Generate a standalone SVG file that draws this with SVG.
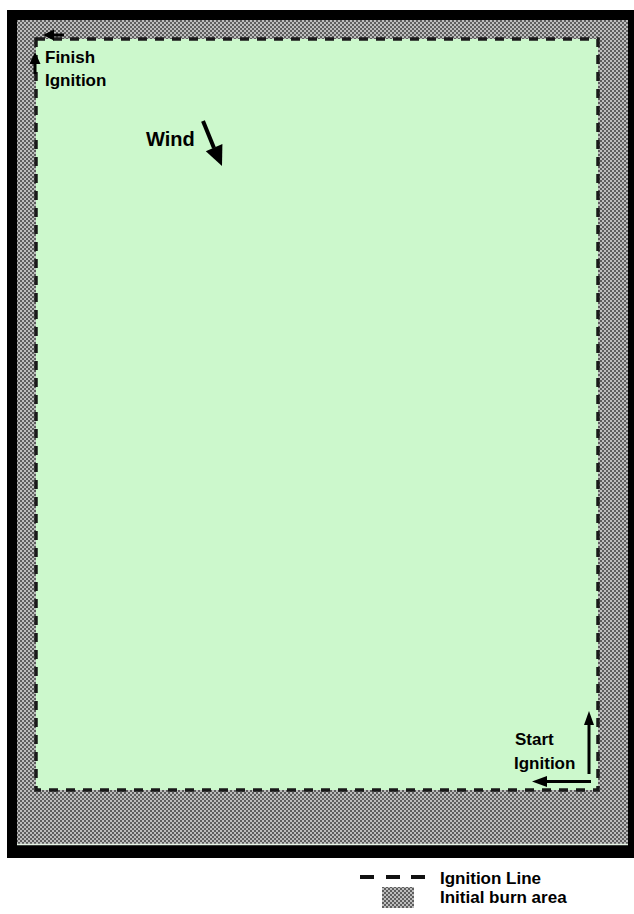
<svg xmlns="http://www.w3.org/2000/svg" width="634" height="914" viewBox="0 0 634 914">
  <defs>
    <pattern id="hatch" patternUnits="userSpaceOnUse" width="4" height="4">
      <rect width="4" height="4" fill="#5e5e5e"/>
      <rect x="2" y="0" width="2" height="2" fill="#bdbdbd"/>
      <rect x="0" y="2" width="2" height="2" fill="#bdbdbd"/>
    </pattern>
  </defs>
  <style>
    .lbl { font-family: "Liberation Sans", Arial, sans-serif; font-weight: bold; font-size: 17px; fill: #000; }
    .ign { fill: none; stroke: #1a1a1a; stroke-width: 3.5; stroke-dasharray: 9 8; }
    .arr { stroke: #000; stroke-width: 3; fill: none; }
    .head { fill: #000; }
  </style>
  <rect width="634" height="914" fill="#ffffff"/>

  <g id="frame">
    <rect x="7" y="10" width="627" height="848" fill="#000"/>
  </g>
  <g id="burn-area">
    <rect x="17" y="20" width="611" height="825" fill="url(#hatch)"/>
    <line x1="17" y1="844.5" x2="628" y2="844.5" stroke="#e4f2e4" stroke-width="1.5"/>
  </g>
  <g id="burn-unit">
    <rect x="36" y="39" width="562" height="751" fill="#ccf8cc"/>
    <rect x="36" y="39" width="562" height="751" class="ign"/>
  </g>

  <g id="finish-label">
    <text class="lbl" x="45" y="63">Finish</text>
    <text class="lbl" x="45" y="86">Ignition</text>
  </g>
  <g id="wind-label">
    <text class="lbl" x="146" y="146" style="font-size:20px">Wind</text>
  </g>
  <g id="start-label">
    <text class="lbl" x="515" y="745">Start</text>
    <text class="lbl" x="514" y="769">Ignition</text>
  </g>

  <g id="connectors">
    <!-- finish arrows -->
    <line class="arr" x1="64" y1="35" x2="52" y2="35"/>
    <polygon class="head" points="43,35 54,29.5 54,40.5"/>
    <line class="arr" x1="35" y1="74" x2="35" y2="62"/>
    <polygon class="head" points="35,52 29.5,64 40.5,64"/>
    <!-- wind arrow -->
    <line x1="203" y1="121" x2="214" y2="148" stroke="#000" stroke-width="4"/>
    <polygon class="head" points="222,166 222.4,144 205.8,151.2"/>
    <!-- start arrows -->
    <line class="arr" x1="589" y1="774" x2="589" y2="724"/>
    <polygon class="head" points="589,711 584,725 594,725"/>
    <line class="arr" x1="591" y1="781.5" x2="545" y2="781.5"/>
    <polygon class="head" points="532,781.5 547,776 547,787"/>
  </g>

  <g id="legend">
    <g id="legend-ignition">
      <line x1="360" y1="877" x2="374" y2="877" stroke="#111" stroke-width="4"/>
      <line x1="386" y1="877" x2="400" y2="877" stroke="#111" stroke-width="4"/>
      <line x1="411" y1="877" x2="425" y2="877" stroke="#111" stroke-width="4"/>
      <text class="lbl" x="440" y="884">Ignition Line</text>
    </g>
    <g id="legend-burn">
      <rect x="382" y="887" width="32" height="21" fill="url(#hatch)"/>
      <text class="lbl" x="440" y="903">Initial burn area</text>
    </g>
  </g>
</svg>
